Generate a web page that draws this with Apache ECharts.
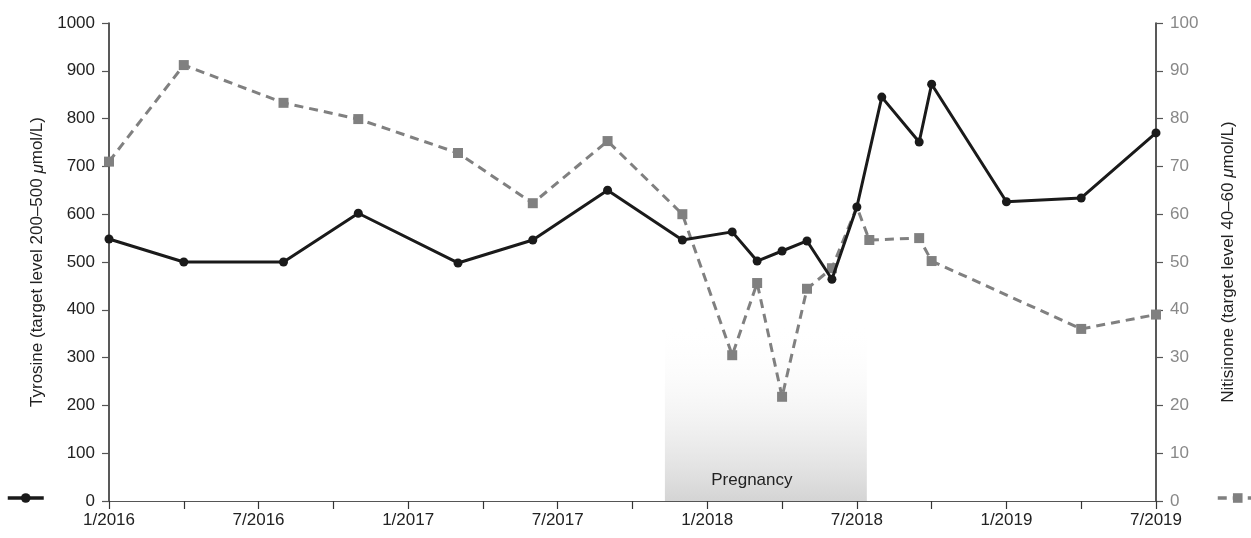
<!DOCTYPE html>
<html>
<head>
<meta charset="utf-8">
<script src="https://cdn.jsdelivr.net/npm/echarts@6/dist/echarts.min.js"></script>
<style>html,body{margin:0;padding:0;background:#fff;}#c{width:1251px;height:538px;}</style>
</head>
<body>
<div id="c"></div>
<script>
// months since 1/2016
var tyrMonths = [0, 3, 7, 10, 14, 17, 20, 23, 25, 26, 27, 28, 29, 30, 31, 32.5, 33, 36, 39, 42];
var tyrValues = [548, 500, 500, 602, 498, 546, 650, 546, 563, 502, 523, 544, 464, 615, 845, 751, 872, 626, 634, 770];
var nitMonths = [0, 3, 7, 10, 14, 17, 20, 23, 25, 26, 27, 28, 29, 30, 30.5, 32.5, 33, 39, 42];
var nitValues = [71, 91.2, 83.3, 79.9, 72.8, 62.3, 75.3, 60, 30.5, 45.6, 21.8, 44.4, 48.7, 61.5, 54.6, 55, 50.2, 36, 39];
var nitHiddenMarker = [30];
var pregnancyRange = [22.3, 30.4];
var pregnancyTop = 370;
var leftTicks = {min: 0, max: 1000, interval: 100};
var rightTicks = {min: 0, max: 100, interval: 10};
var xTicks = {min: 0, max: 42, interval: 3, labelEvery: 6};

var FONT = '"Liberation Sans", Arial, sans-serif';
var chart = echarts.init(document.getElementById('c'), null, {renderer: 'canvas'});

function monthLabel(v) {
  if (v % xTicks.labelEvery !== 0) return '';
  var y = 2016 + Math.floor(v / 12);
  var m = (v % 12) + 1;
  return m + '/' + y;
}

var tyrData = tyrMonths.map(function (m, i) { return [m, tyrValues[i]]; });
var nitData = nitMonths.map(function (m, i) {
  var d = {value: [m, nitValues[i]]};
  if (nitHiddenMarker.indexOf(m) >= 0) d.symbolSize = 0;
  return d;
});

chart.setOption({
  animation: false,
  backgroundColor: '#fff',
  textStyle: {fontFamily: FONT},
  grid: {left: 109, right: 95, top: 23, bottom: 37, containLabel: false},
  legend: [
    {left: 6, top: 492, padding: 0, itemWidth: 36, itemHeight: 12, data: ['Tyrosine'], formatter: function () { return ''; }, itemGap: 0, selectedMode: false,
     lineStyle: {width: 3.5, color: '#1a1a1a'}, itemStyle: {color: '#1a1a1a'}},
    {left: 1216, top: 492, padding: 0, itemWidth: 40, itemHeight: 12, data: ['Nitisinone'], formatter: function () { return ''; }, itemGap: 0, selectedMode: false,
     lineStyle: {width: 3.5, color: '#808080', type: [9, 6]}, itemStyle: {color: '#808080'}}
  ],
  xAxis: {
    type: 'value', min: xTicks.min, max: xTicks.max, interval: xTicks.interval,
    axisLine: {lineStyle: {color: '#555', width: 1.2}},
    axisTick: {length: 8, lineStyle: {color: '#333', width: 1.2}},
    axisLabel: {formatter: monthLabel, color: '#222', fontSize: 17, margin: 11, fontFamily: FONT},
    splitLine: {show: false}
  },
  yAxis: [
    {
      type: 'value', min: leftTicks.min, max: leftTicks.max, interval: leftTicks.interval, position: 'left',
      name: 'Tyrosine (target level 200–500 {i|μ}mol/L)', nameLocation: 'middle', nameGap: 60,
      nameTextStyle: {fontSize: 17, color: '#222', fontFamily: FONT, rich: {i: {fontStyle: 'italic', fontSize: 17, color: '#222', fontFamily: FONT}}},
      axisLine: {show: true, lineStyle: {color: '#222', width: 1.5}},
      axisTick: {show: true, length: 7, lineStyle: {color: '#555', width: 1.2}},
      axisLabel: {color: '#222', fontSize: 17, margin: 14, fontFamily: FONT, formatter: function (v) { return String(v); }},
      splitLine: {show: false}
    },
    {
      type: 'value', min: rightTicks.min, max: rightTicks.max, interval: rightTicks.interval, position: 'right',
      name: 'Nitisinone (target level 40–60 {i|μ}mol/L)', nameLocation: 'middle', nameGap: 64, nameRotate: 90,
      nameTextStyle: {fontSize: 17, color: '#222', fontFamily: FONT, rich: {i: {fontStyle: 'italic', fontSize: 17, color: '#222', fontFamily: FONT}}},
      axisLine: {show: true, lineStyle: {color: '#222', width: 1.5}},
      axisTick: {show: true, length: 7, lineStyle: {color: '#555', width: 1.2}},
      axisLabel: {color: '#888', fontSize: 17, margin: 14, fontFamily: FONT},
      splitLine: {show: false}
    }
  ],
  series: [
    {
      name: 'Nitisinone', type: 'line', yAxisIndex: 1, data: nitData, z: 2,
      symbol: 'rect', symbolSize: 10,
      itemStyle: {color: '#808080'},
      lineStyle: {color: '#808080', width: 3, type: [9, 6]},
      markArea: {
        silent: true,
        data: [[
          {xAxis: pregnancyRange[0], yAxis: 0},
          {xAxis: pregnancyRange[1], yAxis: pregnancyTop / 10}
        ]],
        itemStyle: {
          color: new echarts.graphic.LinearGradient(0, 0, 0, 1, [
            {offset: 0, color: 'rgba(255,255,255,0)'},
            {offset: 1, color: 'rgba(212,212,212,1)'}
          ])
        },
        label: {show: true, position: 'insideBottom', distance: 12, offset: [-14, 0], formatter: 'Pregnancy', color: '#222', fontSize: 17, fontFamily: FONT}
      }
    },
    {
      name: 'Tyrosine', type: 'line', yAxisIndex: 0, data: tyrData, z: 3,
      symbol: 'circle', symbolSize: 9,
      itemStyle: {color: '#1a1a1a'},
      lineStyle: {color: '#1a1a1a', width: 3}
    }
  ]
});
</script>
</body>
</html>
